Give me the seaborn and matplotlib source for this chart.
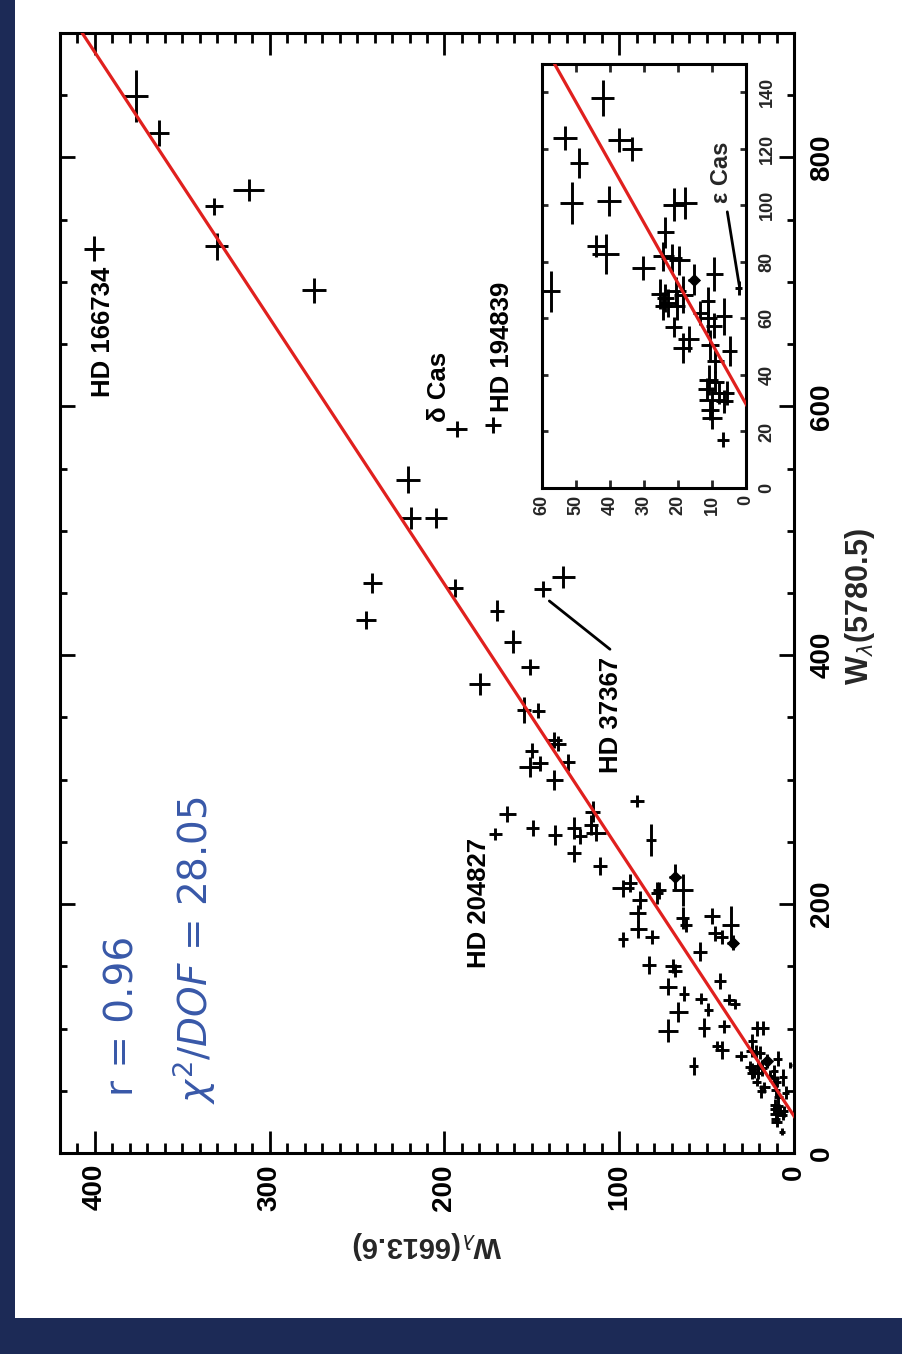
import numpy as np
import matplotlib
matplotlib.use("Agg")
import matplotlib.pyplot as plt
from matplotlib.ticker import MultipleLocator
from matplotlib.patches import Rectangle
import seaborn as sns
import pandas as pd

# ---------------- data ----------------
# W_lambda(5780.5), W_lambda(6613.6), their errors and the marker kind
w5780 = [849.6, 819.7, 760.7, 774.0, 728.6, 726.5, 693.3, 581.8, 585.0, 541.0,
         510.3, 510.3, 428.3, 458.0, 463.0, 453.2, 454.3, 435.8, 410.9, 390.8,
         376.9, 356.0, 355.4, 331.9, 328.7, 323.4, 310.0, 313.2, 314.0, 299.7,
         274.4, 283.1, 272.4, 256.3, 261.0, 255.5, 261.0, 254.7, 240.8, 263.6,
         257.0, 230.9, 251.5, 212.7, 217.0, 208.8, 211.0, 222.0, 211.3, 203.3,
         192.6, 179.8, 171.8, 173.8, 188.6, 183.2, 190.5, 183.2, 176.6, 173.4,
         169.1, 161.8, 151.1, 150.3, 146.5, 133.7, 127.8, 113.5, 98.3,
         138.0, 123.8, 123.2, 119.9, 115.0, 100.8, 101.7, 100.2, 100.8, 90.4,
         85.7, 82.7, 81.9, 81.4, 80.5, 77.8, 75.7, 73.7, 70.8, 68.8,
         67.2, 65.4, 64.3, 69.6, 68.4, 64.3, 66.0, 61.9, 60.7, 60.1,
         57.4, 57.0, 52.7, 49.5, 50.7, 48.3, 44.8, 38.3, 37.4, 35.0,
         33.6, 33.6, 31.2, 30.7, 27.7, 24.8, 17.1, 69.6]
w6613 = [376.4, 363.1, 331.8, 312.0, 330.3, 400.8, 274.6, 193.0, 172.4, 221.0,
         219.1, 204.8, 244.9, 241.4, 132.0, 143.8, 193.9, 170.1, 161.0, 151.0,
         179.9, 154.5, 146.3, 137.3, 135.0, 150.0, 151.0, 145.3, 129.1, 137.1,
         115.2, 90.0, 164.0, 171.0, 149.5, 136.7, 125.9, 122.4, 125.9, 116.3,
         113.3, 111.0, 82.0, 98.0, 93.8, 78.5, 77.0, 68.1, 63.7, 88.4,
         89.5, 89.0, 98.0, 81.4, 63.7, 61.8, 47.1, 36.2, 45.2, 41.4,
         35.1, 53.8, 82.8, 69.1, 68.1, 71.9, 62.9, 66.2, 71.9,
         42.2, 53.3, 37.3, 33.6, 49.1, 51.3, 40.2, 21.3, 17.9, 23.8,
         44.0, 41.3, 24.3, 21.9, 19.6, 30.2, 9.3, 15.4, 2.1, 25.3,
         23.8, 22.8, 24.3, 20.6, 18.4, 20.4, 11.2, 13.5, 6.4, 11.3,
         9.5, 21.3, 16.9, 18.6, 10.5, 4.8, 9.0, 11.0, 9.0, 11.5,
         7.8, 5.6, 10.0, 6.4, 10.5, 10.0, 6.8, 57.4]
e5780 = [21.0, 10.4, 6.7, 8.6, 10.7, 10.0, 10.2, 6.3, 6.7, 10.7,
         9.0, 8.0, 7.0, 8.0, 8.8, 6.4, 7.2, 8.6, 9.1, 6.4,
         8.8, 10.7, 6.2, 6.7, 6.0, 6.2, 8.0, 6.0, 6.7, 8.0,
         8.7, 4.8, 6.3, 4.7, 6.4, 8.4, 8.7, 6.0, 6.7, 8.0,
         6.0, 7.3, 12.6, 7.0, 7.5, 8.6, 7.0, 10.2, 12.6, 7.4,
         6.7, 6.7, 6.0, 5.6, 8.7, 6.0, 6.3, 15.3, 6.0, 5.5,
         6.0, 7.4, 7.6, 5.6, 5.0, 6.7, 6.0, 8.0, 9.1,
         6.3, 4.4, 4.2, 4.2, 5.3, 7.3, 5.3, 5.9, 5.6, 5.4,
         3.9, 7.1, 5.0, 5.0, 5.2, 4.2, 6.1, 5.5, 2.4, 5.3,
         5.0, 5.0, 5.0, 5.0, 6.5, 5.0, 5.0, 4.4, 6.5, 5.3,
         4.5, 3.5, 4.7, 5.2, 5.3, 5.3, 4.1, 5.3, 4.0, 4.0,
         4.0, 4.4, 4.7, 4.0, 3.5, 4.1, 2.7, 7.3]
e6613 = [6.9, 5.7, 5.0, 8.8, 6.5, 5.7, 6.7, 5.9, 4.6, 6.9,
         5.5, 6.3, 5.5, 5.5, 6.7, 5.0, 4.4, 4.0, 4.8, 5.0,
         5.9, 4.0, 3.8, 4.8, 4.5, 3.8, 6.1, 4.5, 3.8, 4.8,
         4.3, 4.0, 5.0, 3.8, 3.8, 4.0, 4.0, 4.0, 4.0, 4.0,
         5.5, 3.8, 2.9, 6.2, 3.8, 3.4, 3.5, 3.5, 6.1, 4.5,
         5.0, 4.8, 2.9, 4.1, 3.8, 3.5, 4.6, 4.8, 4.1, 3.5,
         3.0, 3.8, 4.0, 4.5, 3.8, 5.2, 3.1, 5.4, 5.7,
         3.5, 3.5, 3.4, 2.9, 2.6, 3.5, 3.5, 3.1, 3.6, 2.5,
         2.8, 3.9, 3.0, 3.0, 3.0, 3.3, 2.5, 1.7, 1.0, 2.7,
         2.5, 2.5, 2.5, 3.0, 2.7, 2.5, 2.0, 2.2, 2.3, 2.7,
         2.3, 2.5, 3.0, 2.8, 2.7, 2.2, 2.5, 2.9, 2.5, 2.5,
         2.5, 2.2, 3.7, 2.5, 2.6, 3.0, 1.7, 2.6]
kind = ["cross"] * len(w5780)
for i in (47, 60, 86):
    kind[i] = "diamond"

fit_slope = 0.468      # W(6613.6) = slope * W(5780.5) + intercept
fit_intercept = -13.9
fit_range = [0.0, 900.0]

x_ticks_main = [0, 100, 200, 300, 400]
y_ticks_main = [0, 200, 400, 600, 800]

labels_main = ["HD 166734", "δ Cas", "HD 194839", "HD 37367", "HD 204827"]
labels_pos6613 = [395.3, 203.1, 166.8, 104.7, 180.5]
labels_pos5780 = [660.0, 615.6, 648.1, 352.0, 200.9]

df = pd.DataFrame({"w5780": w5780, "w6613": w6613, "e5780": e5780,
                   "e6613": e6613, "kind": kind})
fit_x = np.array(fit_range)
fit_df = pd.DataFrame({"w5780": fit_x, "w6613": fit_slope * fit_x + fit_intercept})

# ---------------- style ----------------
sns.set_theme(style="ticks")
plt.rcParams["font.family"] = ["Liberation Sans", "DejaVu Sans"]
plt.rcParams["font.weight"] = "normal"
plt.rcParams["mathtext.fontset"] = "dejavusans"
plt.rcParams["axes.linewidth"] = 2.2

NAVY = "#1c2a56"
RED = "#e0201e"
BLUE = "#3858a8"
W, H = 902, 1354

fig = plt.figure(figsize=(W / 100, H / 100), dpi=100, facecolor=NAVY)
bg = Rectangle((15 / W, 36 / H), 1, 1, transform=fig.transFigure,
               facecolor="white", edgecolor="none", zorder=-10)
fig.patches.append(bg)


def draw_data(ax, lw, dsize):
    ax.errorbar(df["w6613"], df["w5780"], xerr=df["e6613"], yerr=df["e5780"],
                fmt="none", ecolor="black", elinewidth=lw, capsize=0, zorder=2)
    sns.scatterplot(data=df[df["kind"] == "diamond"], x="w6613", y="w5780",
                    marker="D", s=dsize, color="black", edgecolor="black",
                    linewidth=0, ax=ax, zorder=3, legend=False)
    sns.lineplot(data=fit_df, x="w6613", y="w5780", sort=False, estimator=None,
                 color=RED, linewidth=2.3, ax=ax, zorder=4, legend=False)
    ax.set_xlabel("")
    ax.set_ylabel("")


# ---------------- main panel ----------------
ax = fig.add_axes([60 / W, 1 - 1153 / H, 734 / W, 1120 / H])
ax.set_zorder(1)
ax.set_facecolor("white")
draw_data(ax, 2.1, 45)
ax.set_xlim(420, 0)
ax.set_ylim(0, 900)
ax.set_xticks(x_ticks_main)
ax.xaxis.set_minor_locator(MultipleLocator(10))
ax.set_yticks(y_ticks_main)
ax.yaxis.set_minor_locator(MultipleLocator(50))
ax.tick_params(axis="x", which="both", direction="in", top=True, bottom=True,
               width=2, labelsize=20, pad=8, labelrotation=90, colors="black")
ax.tick_params(axis="x", which="major", length=15.5)
ax.tick_params(axis="x", which="minor", length=7)
ax.tick_params(axis="y", which="both", direction="in", left=True, right=True,
               labelleft=False, labelright=True, width=2, labelsize=20, pad=11,
               labelrotation=90, colors="black")
ax.tick_params(axis="y", which="major", length=11)
ax.tick_params(axis="y", which="minor", length=5)
for sp in ax.spines.values():
    sp.set_color("black")
    sp.set_linewidth(2.2)

for txt, px, py in zip(labels_main, labels_pos6613, labels_pos5780):
    ax.text(px, py, txt, rotation=90, ha="center", va="center", fontsize=18.5,
            fontweight="bold", color="black", zorder=5)
ax.plot([140.0, 105.3], [443.6, 404.8], color="black", lw=2, zorder=5)

ax.text(384.4, 110.1, "r = 0.96", rotation=90, ha="center", va="center",
        fontsize=28, color=BLUE, fontweight="normal", family="DejaVu Sans")
ax.text(343.2, 163.1, r"$\chi^2/DOF$ = 28.05", rotation=90, ha="center",
        va="center", fontsize=28, color=BLUE, fontweight="normal",
        family="DejaVu Sans")

fig.text(427 / W, 1 - 1245 / H, r"W$_{\lambda}$(6613.6)", rotation=180,
         ha="center", va="center", fontsize=21, fontweight="bold")
fig.text(860 / W, 1 - 607 / H, r"W$_{\lambda}$(5780.5)", rotation=90,
         ha="center", va="center", fontsize=22, fontweight="bold")

# ---------------- inset ----------------
axi = fig.add_axes([542 / W, 1 - 488 / H, 204 / W, 424 / H])
axi.set_zorder(2)
axi.set_facecolor("white")
draw_data(axi, 2.1, 45)
axi.set_xlim(60, 0)
axi.set_ylim(0, 150)
axi.xaxis.set_major_locator(MultipleLocator(10))
axi.yaxis.set_major_locator(MultipleLocator(20))
axi.tick_params(axis="x", which="major", direction="in", top=True, bottom=True,
                length=6, width=2, labelsize=13, pad=5, labelrotation=90)
axi.tick_params(axis="y", which="major", direction="in", left=True, right=True,
                labelleft=False, labelright=True, length=4, width=2,
                labelsize=13, pad=9, labelrotation=90)
for sp in axi.spines.values():
    sp.set_color("black")
    sp.set_linewidth(2.2)
axi.text(7.2, 111.6, "ε Cas", rotation=90, ha="center", va="center",
         fontsize=17, fontweight="bold", zorder=5)
axi.plot([5.5, 2.0], [97.7, 71.8], color="black", lw=2, zorder=5)

fig.canvas.draw()
for a in (ax, axi):
    for lbl in a.yaxis.get_ticklabels():
        lbl.set_va("center")
        lbl.set_fontweight("bold")
    for lbl in a.xaxis.get_ticklabels():
        lbl.set_fontweight("bold")

fig.savefig("out.png", dpi=100, facecolor=NAVY)
